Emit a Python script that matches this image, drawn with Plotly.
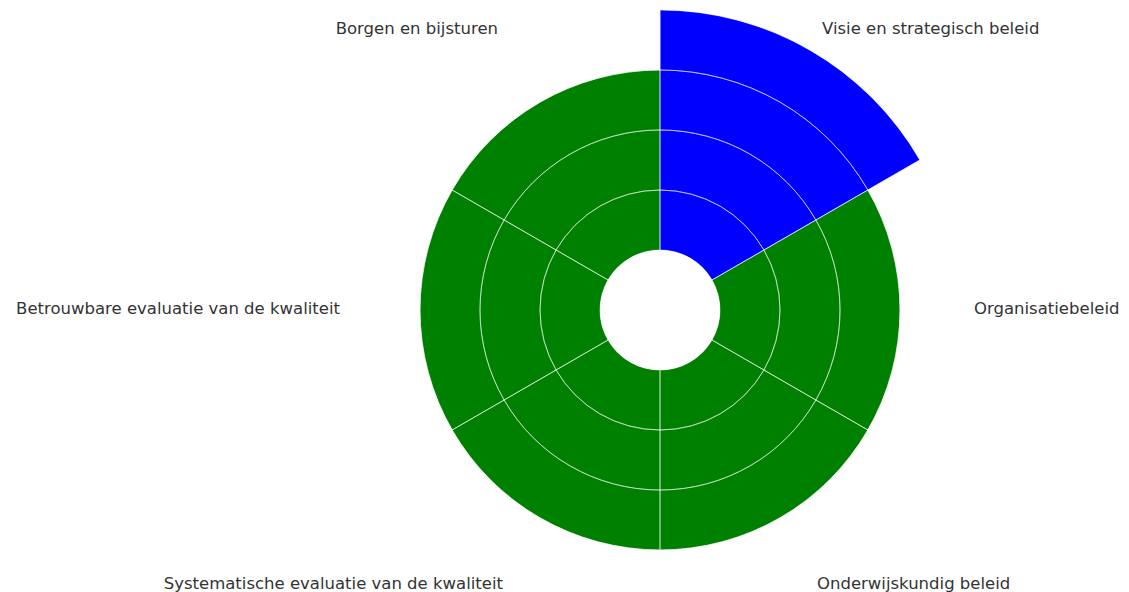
import plotly.graph_objects as go

categories = [
    "Visie en strategisch beleid",
    "Organisatiebeleid",
    "Onderwijskundig beleid",
    "Systematische evaluatie van de kwaliteit",
    "Betrouwbare evaluatie van de kwaliteit",
    "Borgen en bijsturen",
]
scores = [4, 3, 3, 3, 3, 3]
bar_colors = ["blue", "green", "green", "green", "green", "green"]
grid_levels = [0, 1, 2, 3]

W, H = 1140, 610
cx, cy, rad = 652, 302, 300          # polar centre / radius in figure px
rmax = 4
label_pos = ["top right", "middle right", "bottom right",
             "bottom left", "middle left", "top left"]
label_gap = [17.6, 20.8, 9.6, 9.6, 30.4, 17.6]   # invisible marker sizes -> text offset

fig = go.Figure()
fig.add_trace(go.Barpolar(
    r=scores, theta=categories,
    marker=dict(color=bar_colors, line=dict(width=0)),
    showlegend=False, hoverinfo="theta+r",
))
# grid drawn above the bars as outlined transparent cells
for lvl in grid_levels:
    fig.add_trace(go.Barpolar(
        r=[1] * len(categories), base=[lvl] * len(categories), theta=categories,
        marker=dict(color="rgba(0,0,0,0)", line=dict(color="rgba(255,255,255,0.5)", width=1)),
        showlegend=False, hoverinfo="skip",
    ))
# category labels at the rim of the polar area (invisible markers give the offset)
fig.add_trace(go.Scatterpolar(
    r=[rmax] * len(categories), theta=categories, mode="markers+text",
    marker=dict(size=label_gap, opacity=0),
    text=categories, textposition=label_pos,
    textfont=dict(family="DejaVu Sans", size=16.5, color="#333333"),
    cliponaxis=False, showlegend=False, hoverinfo="skip",
))

x0 = (cx - rad) / W
x1 = (cx + rad) / W
y1 = 1 - (cy - rad) / H
y0 = 1 - (cy + rad) / H
fig.update_layout(
    width=W, height=H,
    margin=dict(l=0, r=0, t=0, b=0),
    paper_bgcolor="white",
    font=dict(family="DejaVu Sans", size=16, color="#333333"),
    polar=dict(
        domain=dict(x=[x0, x1], y=[y0, y1]),
        bgcolor="rgba(0,0,0,0)",
        hole=0.2,
        barmode="overlay",
        bargap=0,
        radialaxis=dict(range=[0, rmax], visible=False, showgrid=False),
        angularaxis=dict(
            type="category", direction="clockwise", rotation=60,
            showgrid=False, showline=False, ticks="", showticklabels=False,
        ),
    ),
)
fig.write_html("out.html")
